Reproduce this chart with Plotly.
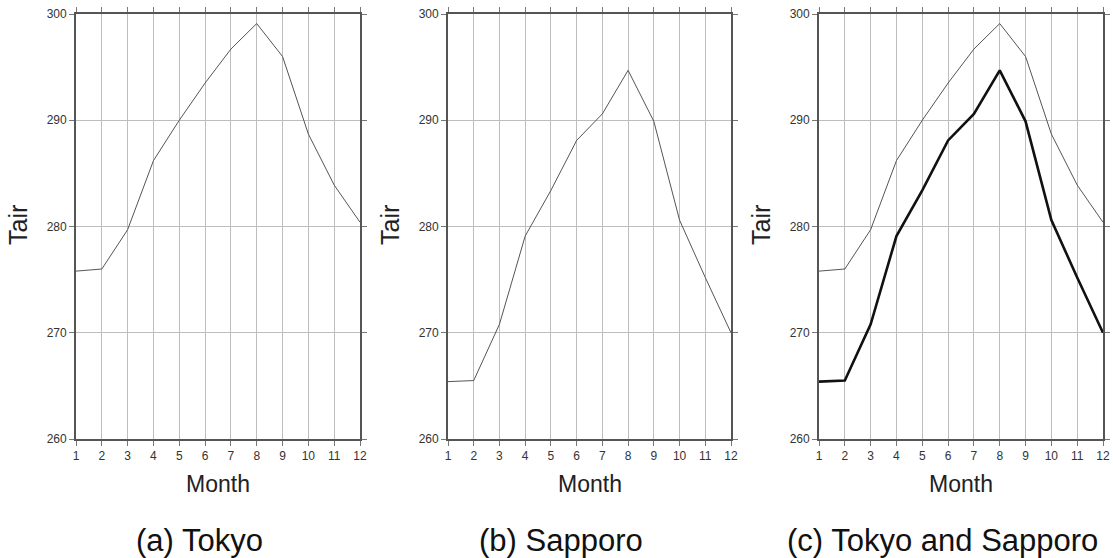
import plotly.graph_objects as go

months = list(range(1, 13))
tokyo = [275.8, 276.0, 279.7, 286.2, 290.0, 293.5, 296.7, 299.1, 296.0, 288.7, 283.9, 280.4]
sapporo = [265.4, 265.5, 270.8, 279.1, 283.4, 288.1, 290.6, 294.7, 289.9, 280.6, 275.2, 270.0]
month_ticks = list(range(1, 13))
tair_ticks = [260, 270, 280, 290, 300]
captions = ["(a) Tokyo", "(b) Sapporo", "(c) Tokyo and Sapporo"]

W, H = 1113, 558
FONT = "Liberation Sans, Arial, Helvetica, sans-serif"

fig = go.Figure()

thin = dict(color="#555555", width=1)
thick = dict(color="#111111", width=2.6)

fig.add_trace(go.Scatter(x=months, y=tokyo, mode="lines", line=thin, xaxis="x", yaxis="y", showlegend=False))
fig.add_trace(go.Scatter(x=months, y=sapporo, mode="lines", line=thin, xaxis="x2", yaxis="y2", showlegend=False))
fig.add_trace(go.Scatter(x=months, y=tokyo, mode="lines", line=thin, xaxis="x3", yaxis="y3", showlegend=False))
fig.add_trace(go.Scatter(x=months, y=sapporo, mode="lines", line=thick, xaxis="x3", yaxis="y3", showlegend=False))

# pixel boundaries of plot areas
panels = [(76, 360), (448, 731), (819, 1103)]
top_px, bot_px = 14, 439
ydom = [1 - bot_px / H, 1 - top_px / H]

common_axis = dict(
    showgrid=True, gridcolor="#bdbdbd", gridwidth=1.3,
    showline=True, linecolor="#555555", linewidth=1.8, mirror="ticks",
    ticks="outside", ticklen=5, tickcolor="#777777", tickwidth=1,
    zeroline=False, automargin=False,
    tickfont=dict(family=FONT, size=12, color="#333333"),
)

layout = dict(
    width=W, height=H,
    margin=dict(l=0, r=0, t=0, b=0, autoexpand=False),
    paper_bgcolor="white", plot_bgcolor="white",
    font=dict(family=FONT, color="#222222"),
)

annotations = []
for i, (l, r) in enumerate(panels):
    sfx = "" if i == 0 else str(i + 1)
    layout["xaxis" + sfx] = dict(
        common_axis,
        domain=[l / W, r / W], range=[1, 12],
        tickmode="array", tickvals=month_ticks, ticktext=[str(m) for m in month_ticks],
        anchor="y" + sfx,
    )
    layout["yaxis" + sfx] = dict(
        common_axis,
        domain=ydom, range=[260, 300],
        tickmode="array", tickvals=tair_ticks, ticktext=[str(v) for v in tair_ticks],
        anchor="x" + sfx,
    )
    annotations.append(dict(
        text="Month", x=(l + r) / 2 / W, y=1 - 484 / H, xref="paper", yref="paper",
        xanchor="center", yanchor="middle", showarrow=False,
        font=dict(family=FONT, size=23, color="#222222")))
    annotations.append(dict(
        text="Tair", x=(l - 58) / W, y=1 - 225 / H, xref="paper", yref="paper",
        xanchor="center", yanchor="middle", showarrow=False, textangle=-90,
        font=dict(family=FONT, size=25, color="#222222")))

caption_x = [199, 561, 942]
for c, cx in zip(captions, caption_x):
    annotations.append(dict(
        text=c, x=cx / W, y=1 - 540 / H, xref="paper", yref="paper",
        xanchor="center", yanchor="middle", showarrow=False,
        font=dict(family=FONT, size=31, color="#111111")))

layout["annotations"] = annotations
fig.update_layout(**layout)
fig.write_html(
    "out.html",
    config={"displayModeBar": False},
    post_script="document.body.style.margin='0';document.body.style.overflow='hidden';",
)
